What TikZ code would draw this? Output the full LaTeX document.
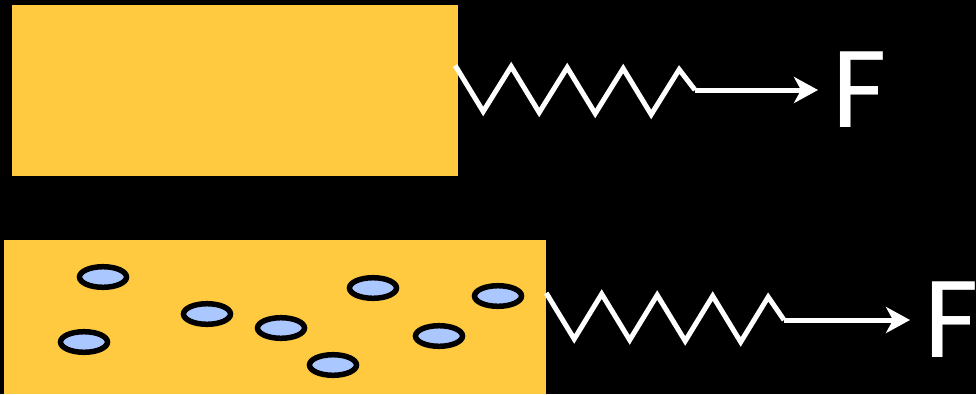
\documentclass[tikz,border=0pt]{standalone}
\usepackage{xcolor}
\usepackage{fontspec}
\setmainfont{Carlito}
\usepackage{tikz}
\usetikzlibrary{arrows.meta}
\usetikzlibrary{positioning}

\definecolor{giallo}{RGB}{255,202,64}
\definecolor{azzurro}{RGB}{170,200,255}

\begin{document}
\begin{tikzpicture}[x=1pt, y=-1pt,
    blocco/.style={fill=giallo, draw=none, inner sep=0pt},
    molla/.style={white, line width=5pt, line join=miter},
    freccia/.style={white, line width=5pt, -{Stealth[length=24pt, width=26pt, inset=7pt]}},
    forza/.style={text=white, font=\fontsize{118}{118}\selectfont, inner ysep=0pt, inner xsep=14pt},
    bolla/.style={fill=azzurro, draw=black, line width=5.5pt}]
  % Sfondo
  \fill[black] (0,0) rectangle (976,394);
  \useasboundingbox (0,0) rectangle (976,394);

  % Blocco senza bolle
  \node[blocco, minimum width=446pt, minimum height=171pt] (blocco1) at (235,90.5) {};
  \coordinate (m1) at (695,90);
  \draw[molla] ([xshift=-3pt, yshift=25pt]blocco1.east)
    \foreach \i in {1,...,4} { -- ++(28,46) -- ++(28,-45) } -- (m1);
  \node[forza, anchor=west] (forza1) at (818,90) {F};
  \draw[freccia] (m1) -- (forza1.west);

  % Blocco con bolle
  \node[blocco, minimum width=542pt, minimum height=154pt] (blocco2) at (275,317) {};
  \foreach \x/\y in {103/277, 84/342, 207/314, 281/328, 373/288, 498/296, 439/336, 333/365}
    \filldraw[bolla] (\x,\y) ellipse (23.5 and 10.3);
  \coordinate (m2) at (784,320);
  \draw[molla] ([yshift=24pt]blocco2.east)
    \foreach \i in {1,...,4} { -- ++(28,46) -- ++(27.5,-45) } -- (m2);
  \node[forza, anchor=west] (forza2) at (910,320) {F};
  \draw[freccia] (m2) -- (forza2.west);
\end{tikzpicture}
\end{document}
